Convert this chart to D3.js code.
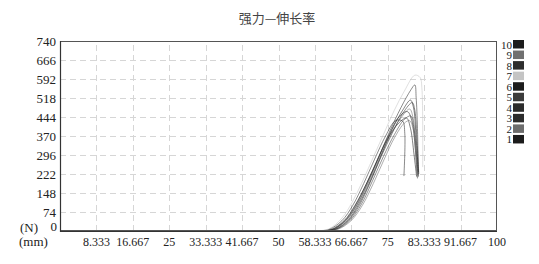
<!DOCTYPE html>
<html><head><meta charset="utf-8">
<script src="https://cdn.jsdelivr.net/npm/d3@7"></script>
<style>
body{margin:0;background:#fff;}
</style></head>
<body><svg id="c" width="539" height="264"></svg>
<script>
const title = "强力—伸长率";
const xTickLabels = ["8.333","16.667","25","33.333","41.667","50","58.333","66.667","75","83.333","91.667","100"];
const yTickLabels = ["74","148","222","296","370","444","518","592","666","740"];
const legendLabels = ["10","9","8","7","6","5","4","3","2","1"];
const legendColors = ["#1c1c1c","#707070","#2e2e2e","#c4c4c4","#1c1c1c","#3c3c3c","#2c2c2c","#2c2c2c","#6c6c6c","#1c1c1c"];
// series 1..10 : [elongation (mm), force (N)]
const s1 = [[58.8,0],[62,6],[65,40],[67.5,100],[70,180],[72.5,270],[75,360],[77.5,420],[79.3,440],[80.2,400],[81.0,300],[81.6,212]];
const s2 = [[59.2,0],[62.5,6],[65.5,40],[68,100],[70.5,185],[73,280],[75.5,370],[78,440],[80,475],[80.8,440],[81.4,330],[81.9,218]];
const s3 = [[59.5,0],[63,6],[66,40],[68.5,100],[71,190],[73.5,290],[76,380],[78.5,460],[80.6,500],[81.2,470],[81.7,350],[82.1,222]];
const s4 = [[58.6,0],[61.5,6],[64.5,40],[67,100],[69.5,185],[72,280],[74.5,370],[76.8,430],[78.4,428],[78.9,380],[78.7,214]];
const s5 = [[59.8,0],[63.2,6],[66.3,40],[69,105],[71.5,195],[74,290],[76.5,375],[78.8,435],[80.3,448],[81.0,400],[81.6,300],[82.0,210]];
const s6 = [[59.0,0],[62.3,6],[65.3,42],[67.8,105],[70.3,190],[72.8,285],[75.3,375],[77.6,445],[79.5,465],[80.5,430],[81.3,320],[81.8,205]];
const s7 = [[58.4,0],[61.5,8],[64.5,50],[66.8,110],[69,185],[71.5,280],[74,375],[76.5,470],[78.8,545],[81.2,607],[82.4,598],[82.8,560],[83.0,249]];
const s8 = [[59.3,0],[62.6,7],[65.6,45],[68.2,110],[70.6,195],[73,290],[75.5,390],[78,480],[80.3,550],[81.2,569],[81.5,520],[81.8,400],[82.0,215]];
const s9 = [[60.2,0],[63.5,6],[66.6,40],[69.2,100],[71.7,185],[74.2,280],[76.6,365],[78.8,420],[80.0,430],[80.9,390],[81.4,300],[81.6,225]];
const s10 = [[59.6,0],[63,7],[66,44],[68.5,108],[71,195],[73.5,295],[76,395],[78.4,470],[80.2,510],[80.9,480],[81.5,360],[82.0,230]];
const series = [s1,s2,s3,s4,s5,s6,s7,s8,s9,s10];

const SERIF = "'Liberation Serif','Times New Roman',Times,serif";
const svg = d3.select("#c");
const x = d3.scaleLinear().domain([0,100]).range([60,497]);
const y = d3.scaleLinear().domain([0,740]).range([231,41]);
const xVals = xTickLabels.map(Number);
const yVals = yTickLabels.map(Number);

function txt(sel){ return sel.style("font-family",SERIF).style("fill","#222"); }

// title
svg.append("text").attr("x",277).attr("y",23).attr("text-anchor","middle")
  .style("font-family","'Noto Sans CJK SC',sans-serif").style("font-size","13px").style("fill","#444").text(title);

// grid
const g = svg.append("g");
g.selectAll(".hg").data(yVals.slice(0,-1)).enter().append("line")
  .attr("x1",x(0)).attr("x2",x(100)).attr("y1",d=>Math.round(y(d))+0.5).attr("y2",d=>Math.round(y(d))+0.5)
  .attr("stroke","#d6d6d6").attr("stroke-dasharray","6,4");
g.selectAll(".vg").data(xVals.slice(0,-1)).enter().append("line")
  .attr("y1",y(0)).attr("y2",y(740)).attr("x1",d=>Math.round(x(d))+0.5).attr("x2",d=>Math.round(x(d))+0.5)
  .attr("stroke","#d6d6d6").attr("stroke-dasharray","6,4");

// curves
const line = d3.line().x(d=>x(d[0])).y(d=>y(d[1])).curve(d3.curveCatmullRom.alpha(0.5));
series.forEach((s,i)=>{
  svg.append("path").datum(s).attr("d",line).attr("fill","none")
    .attr("stroke",legendColors[9-i]).attr("stroke-opacity",0.55).attr("stroke-width",1);
});

// frame
svg.append("rect").attr("x",60.5).attr("y",41.5).attr("width",x(100)-x(0)-1).attr("height",y(0)-y(740)-1)
  .attr("fill","none").attr("stroke","#555").attr("stroke-width",1);
svg.append("line").attr("x1",60.5).attr("x2",60.5).attr("y1",41).attr("y2",232).attr("stroke","#333").attr("stroke-width",1.2);
svg.append("line").attr("x1",60).attr("x2",497).attr("y1",231.5).attr("y2",231.5).attr("stroke","#333").attr("stroke-width",1.2);

// y labels
txt(svg.selectAll(".yl").data(yVals).enter().append("text")
  .attr("x",56).attr("y",d=>y(d)+4.5).attr("text-anchor","end").style("font-size","13px")
  .text((d,i)=>yTickLabels[i]));
txt(svg.append("text").attr("x",57).attr("y",231).attr("text-anchor","end").style("font-size","13px").text("0"));
txt(svg.append("text").attr("x",20).attr("y",232).style("font-size","13px").text("(N)"));
txt(svg.append("text").attr("x",19).attr("y",246).style("font-size","13px").text("(mm)"));

// x labels
txt(svg.selectAll(".xl").data(xVals).enter().append("text")
  .attr("x",d=>x(d)).attr("y",246).attr("text-anchor","middle").style("font-size","12px")
  .text((d,i)=>xTickLabels[i]));

// legend
const lg = svg.append("g");
legendLabels.forEach((l,i)=>{
  const yy = 40 + i*10.55;
  lg.append("rect").attr("x",513).attr("y",yy).attr("width",11).attr("height",8.5).attr("fill",legendColors[i]);
  txt(lg.append("text").attr("x",512).attr("y",yy+8.5).attr("text-anchor","end").style("font-size","11px").text(l));
});
</script></body></html>
